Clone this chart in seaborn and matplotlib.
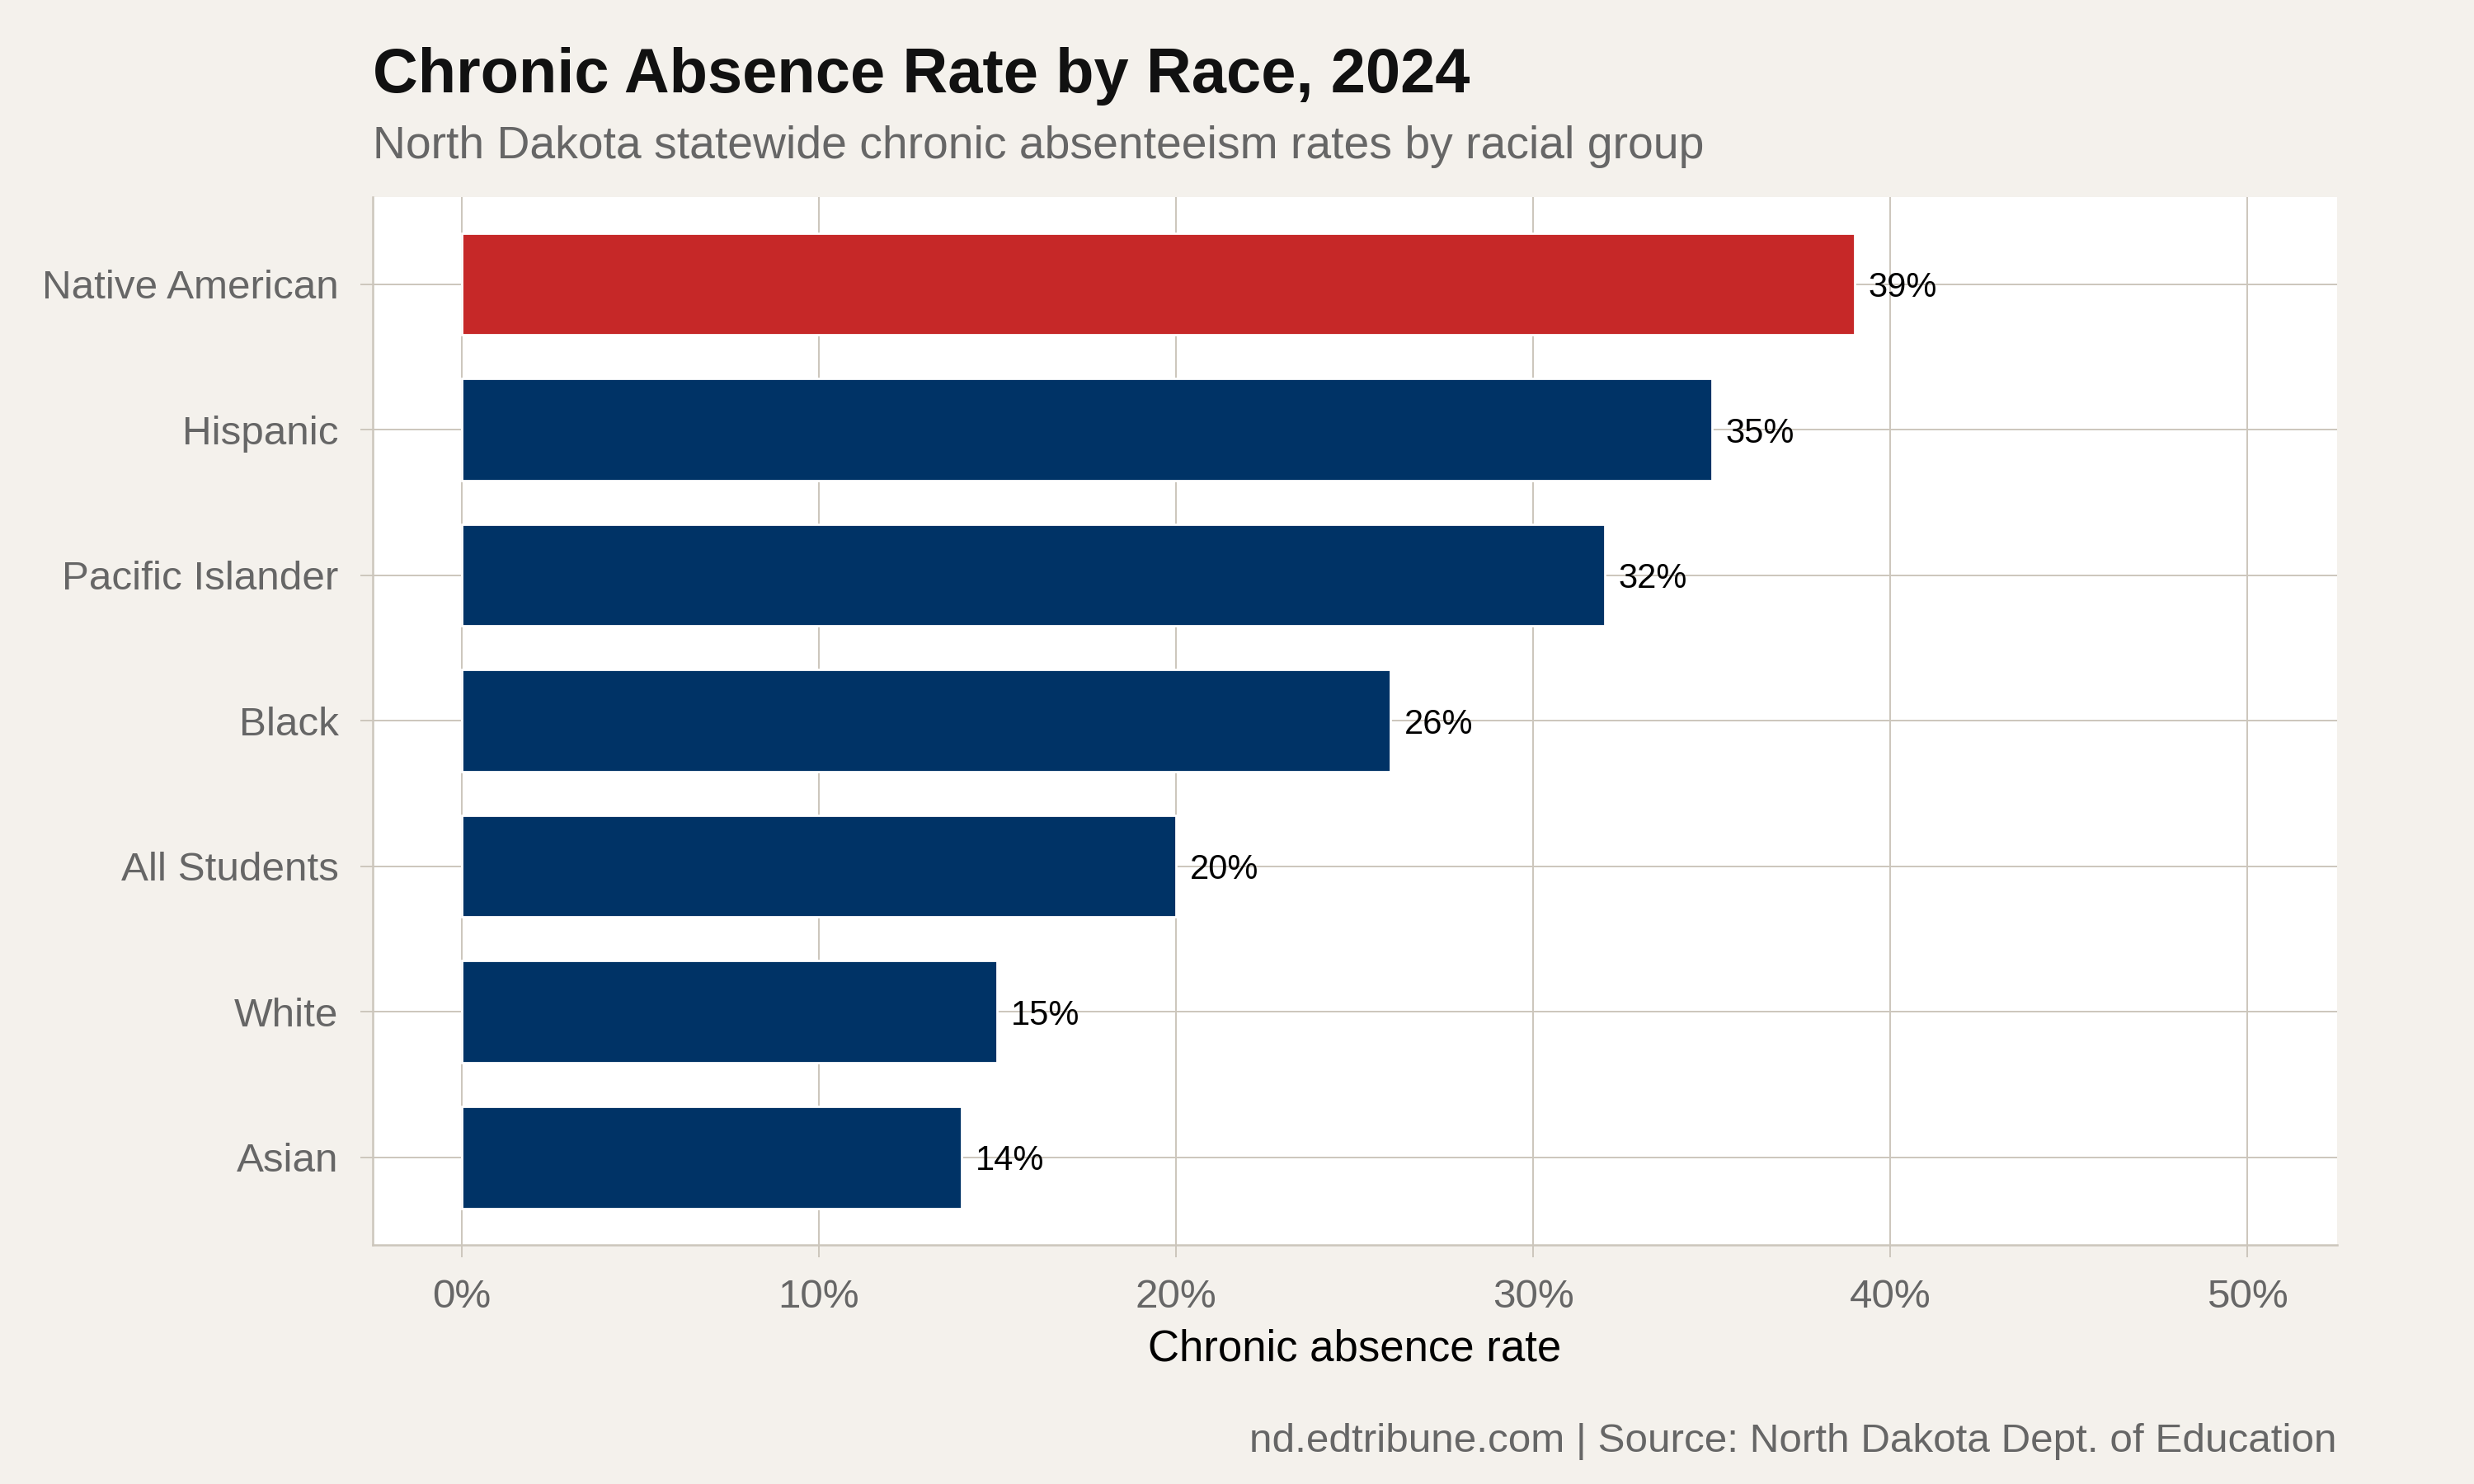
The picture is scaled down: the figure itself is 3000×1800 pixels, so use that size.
import matplotlib.pyplot as plt
import matplotlib.ticker as mticker
import pandas as pd
import seaborn as sns

# Data
races = ['Native American', 'Hispanic', 'Pacific Islander', 'Black',
         'All Students', 'White', 'Asian']
rates = [39, 35, 32, 26, 20, 15, 14]
bar_colors = ['#C62828', '#003366', '#003366', '#003366',
              '#003366', '#003366', '#003366']
x_ticks = [0, 10, 20, 30, 40, 50]

df = pd.DataFrame({'race': races, 'rate': rates})

bg = '#F4F1EC'
grid_col = '#CCC6BC'
grey_txt = '#666666'

sns.set_theme(style='white')
plt.rcParams['font.family'] = ['Liberation Sans', 'DejaVu Sans']

fig = plt.figure(figsize=(15, 9), dpi=200, facecolor=bg)
ax = fig.add_axes([0.1505, 0.1613, 0.794, 0.7061])
ax.set_facecolor('white')

sns.barplot(data=df, x='rate', y='race', hue='race', order=races,
            palette=dict(zip(races, bar_colors)), width=0.7,
            legend=False, saturation=1, ax=ax, zorder=3)

# value labels
for cont in ax.containers:
    txts = ax.bar_label(cont, labels=[f'{v:.0f}%' for v in cont.datavalues],
                        padding=6, fontsize=15, color='black', zorder=4)
    for t in txts:
        t.set_va('center_baseline')

ax.set_xlim(-2.5, 52.5)
ax.set_ylim(len(races) - 0.4, -0.6)
ax.set_xticks(x_ticks)
ax.xaxis.set_major_formatter(mticker.FuncFormatter(lambda v, p: f'{v:.0f}%'))

ax.grid(True, color=grid_col, linewidth=0.7, zorder=0)
ax.set_axisbelow(True)

for s in ['top', 'right']:
    ax.spines[s].set_visible(False)
for s in ['left', 'bottom']:
    ax.spines[s].set_color(grid_col)
    ax.spines[s].set_linewidth(0.9)

ax.tick_params(axis='both', which='major', length=5.3, width=0.7,
               color=grid_col, labelsize=17.8, labelcolor=grey_txt)
ax.tick_params(axis='x', pad=9.5)
ax.tick_params(axis='y', pad=9.5)
ax.tick_params(left=True, bottom=True)

ax.set_ylabel('')
ax.set_xlabel('')

fig.text(0.5475, 0.0828, 'Chronic absence rate', ha='center', va='baseline',
         fontsize=19, color='black')

fig.text(0.1505, 0.9378, 'Chronic Absence Rate by Race, 2024', ha='left',
         va='baseline', fontsize=27.3, fontweight='bold', color='#111111')
fig.text(0.1505, 0.8932,
         'North Dakota statewide chronic absenteeism rates by racial group',
         ha='left', va='baseline', fontsize=19.9, color=grey_txt)
fig.text(0.9445, 0.0218,
         'nd.edtribune.com | Source: North Dakota Dept. of Education',
         ha='right', va='baseline', fontsize=17.8, color=grey_txt)

fig.savefig('out.png', dpi=200, facecolor=bg)
